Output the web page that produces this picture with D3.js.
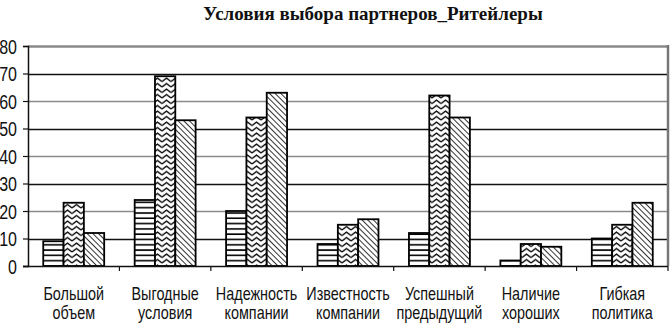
<!DOCTYPE html>
<html>
<head>
<meta charset="utf-8">
<script src="https://cdn.jsdelivr.net/npm/d3@7"></script>
<style>
    body { margin: 0; background: #fff; }
    svg { display: block; }
    .tick-label { font-family: "Liberation Sans", "DejaVu Sans", sans-serif; }
</style>
</head>
<body>
<div id="chart"></div>
<script>
// data
const categories = [
    ["Большой", "объем"],
    ["Выгодные", "условия"],
    ["Надежность", "компании"],
    ["Известность", "компании"],
    ["Успешный", "предыдущий"],
    ["Наличие", "хороших"],
    ["Гибкая", "политика"]
]
const series1 = [9, 24, 20, 8, 12, 2, 10]
const series2 = [23, 69, 54, 15, 62, 8, 15]
const series3 = [12, 53, 63, 17, 54, 7, 23]
const yTicks = [0, 10, 20, 30, 40, 50, 60, 70, 80]
const title = "Условия выбора партнеров_Ритейлеры"

const width = 670
const height = 324
const margin = {top: 46, right: 2, bottom: 58, left: 28}
const squeeze = 0.8 // no narrow font installed, so squash the sans horizontally

const svg = d3.select("#chart")
    .append("svg")
    .attr("width", width)
    .attr("height", height)

// fill patterns (black & white hatching)
const defs = svg.append("defs")

let p1 = defs.append("pattern")
    .attr("id", "hatch-h")
    .attr("patternUnits", "userSpaceOnUse")
    .attr("width", 8)
    .attr("height", 5.3)
p1.append("rect").attr("width", 8).attr("height", 5.3).attr("fill", "white")
p1.append("line")
    .attr("x1", 0).attr("x2", 8)
    .attr("y1", 1).attr("y2", 1)
    .attr("stroke", "black")
    .attr("stroke-width", 1.6)

let p2 = defs.append("pattern")
    .attr("id", "hatch-zig")
    .attr("patternUnits", "userSpaceOnUse")
    .attr("width", 9)
    .attr("height", 5.5)
p2.append("rect").attr("width", 9).attr("height", 5.5).attr("fill", "white")
p2.append("path")
    .attr("d", "M0,4.5 L4.5,1 L9,4.5")
    .attr("fill", "none")
    .attr("stroke", "black")
    .attr("stroke-width", 1.3)

let p3 = defs.append("pattern")
    .attr("id", "hatch-d")
    .attr("patternUnits", "userSpaceOnUse")
    .attr("width", 4)
    .attr("height", 4)
    .attr("patternTransform", "rotate(-45)")
p3.append("rect").attr("width", 4).attr("height", 4).attr("fill", "white")
p3.append("line")
    .attr("x1", 0).attr("x2", 0)
    .attr("y1", 0).attr("y2", 4)
    .attr("stroke", "black")
    .attr("stroke-width", 1.6)

const fills = ["url(#hatch-h)", "url(#hatch-zig)", "url(#hatch-d)"]

let x0 = d3.scaleBand()
    .domain(d3.range(categories.length))
    .range([margin.left, width - margin.right])
    .padding(0)

// excel style: gap of 1.5 bar widths between groups
let barW = x0.bandwidth() / 4.5
let x1 = d3.scaleBand()
    .domain([0, 1, 2])
    .range([barW * 0.75, barW * 3.75])
    .padding(0)

let y = d3.scaleLinear()
    .domain([0, 80])
    .range([height - margin.bottom, margin.top])

// gridlines, alternating dark/gray like the scan
svg.append("g")
    .selectAll("line")
    .data(yTicks.filter(d => d > 0))
    .enter()
    .append("line")
    .attr("x1", margin.left)
    .attr("x2", width - margin.right)
    .attr("y1", d => Math.round(y(d)) + 0.5)
    .attr("y2", d => Math.round(y(d)) + 0.5)
    .attr("stroke", d => (d / 10) % 2 == 0 ? "#8a8a8a" : "#111")
    .attr("stroke-width", d => d == 80 ? 2.5 : 1.3)

// right border of plot area
svg.append("line")
    .attr("x1", width - margin.right)
    .attr("x2", width - margin.right)
    .attr("y1", margin.top - 1)
    .attr("y2", height - margin.bottom)
    .attr("stroke", "#777")
    .attr("stroke-width", 2.5)

// bars
let series = [series1, series2, series3]
series.forEach((values, s) => {
    svg.append("g")
        .selectAll("rect")
        .data(values)
        .enter()
        .append("rect")
        .attr("x", (d, i) => x0(i) + x1(s))
        .attr("y", d => y(d))
        .attr("width", x1.bandwidth())
        .attr("height", d => y(0) - y(d))
        .attr("fill", fills[s])
        .attr("stroke", "black")
        .attr("stroke-width", 1.8)
})

// y axis
let yAxis = d3.axisLeft(y)
    .tickValues(yTicks)
    .tickSize(5)
    .tickFormat(d3.format("d"))
let gy = svg.append("g")
    .attr("transform", "translate(" + margin.left + ",0)")
    .call(yAxis)
gy.select(".domain").attr("stroke", "#111").attr("stroke-width", 1.5)
gy.selectAll(".tick line").attr("stroke", "#111").attr("stroke-width", 1.2)
gy.selectAll(".tick text")
    .attr("class", "tick-label")
    .attr("x", -11 / squeeze)
    .attr("dy", "0.36em")
    .attr("transform", "scale(" + squeeze + ",1)")
    .style("font-size", "20px")
    .attr("fill", "#111")

// x axis with category separator ticks
svg.append("line")
    .attr("x1", margin.left - 5)
    .attr("x2", width - margin.right)
    .attr("y1", y(0) + 0.5)
    .attr("y2", y(0) + 0.5)
    .attr("stroke", "#111")
    .attr("stroke-width", 1.5)

svg.append("g")
    .selectAll("line")
    .data(d3.range(1, categories.length + 1))
    .enter()
    .append("line")
    .attr("x1", d => x0.step() * d + margin.left)
    .attr("x2", d => x0.step() * d + margin.left)
    .attr("y1", y(0))
    .attr("y2", y(0) + 5)
    .attr("stroke", "#111")
    .attr("stroke-width", 1.2)

// category labels, two lines each
let labels = svg.append("g")
    .selectAll("text")
    .data(categories)
    .enter()
    .append("text")
    .attr("class", "tick-label")
    .attr("text-anchor", "middle")
    .attr("transform", (d, i) => "translate(" + (x0(i) + x0.bandwidth() / 2) + ",0) scale(" + squeeze + ",1)")
    .style("font-size", "18px")
    .attr("fill", "#111")
labels.each(function (d) {
    d3.select(this).selectAll("tspan")
        .data(d)
        .enter()
        .append("tspan")
        .attr("x", 0)
        .attr("y", (t, j) => 300 + j * 19)
        .text(t => t)
})

// title
svg.append("text")
    .attr("x", 373)
    .attr("y", 20)
    .attr("text-anchor", "middle")
    .style("font-family", "'Liberation Serif', 'Times New Roman', serif")
    .style("font-weight", "bold")
    .style("font-size", "19px")
    .attr("fill", "#111")
    .text(title)
</script>
</body>
</html>
